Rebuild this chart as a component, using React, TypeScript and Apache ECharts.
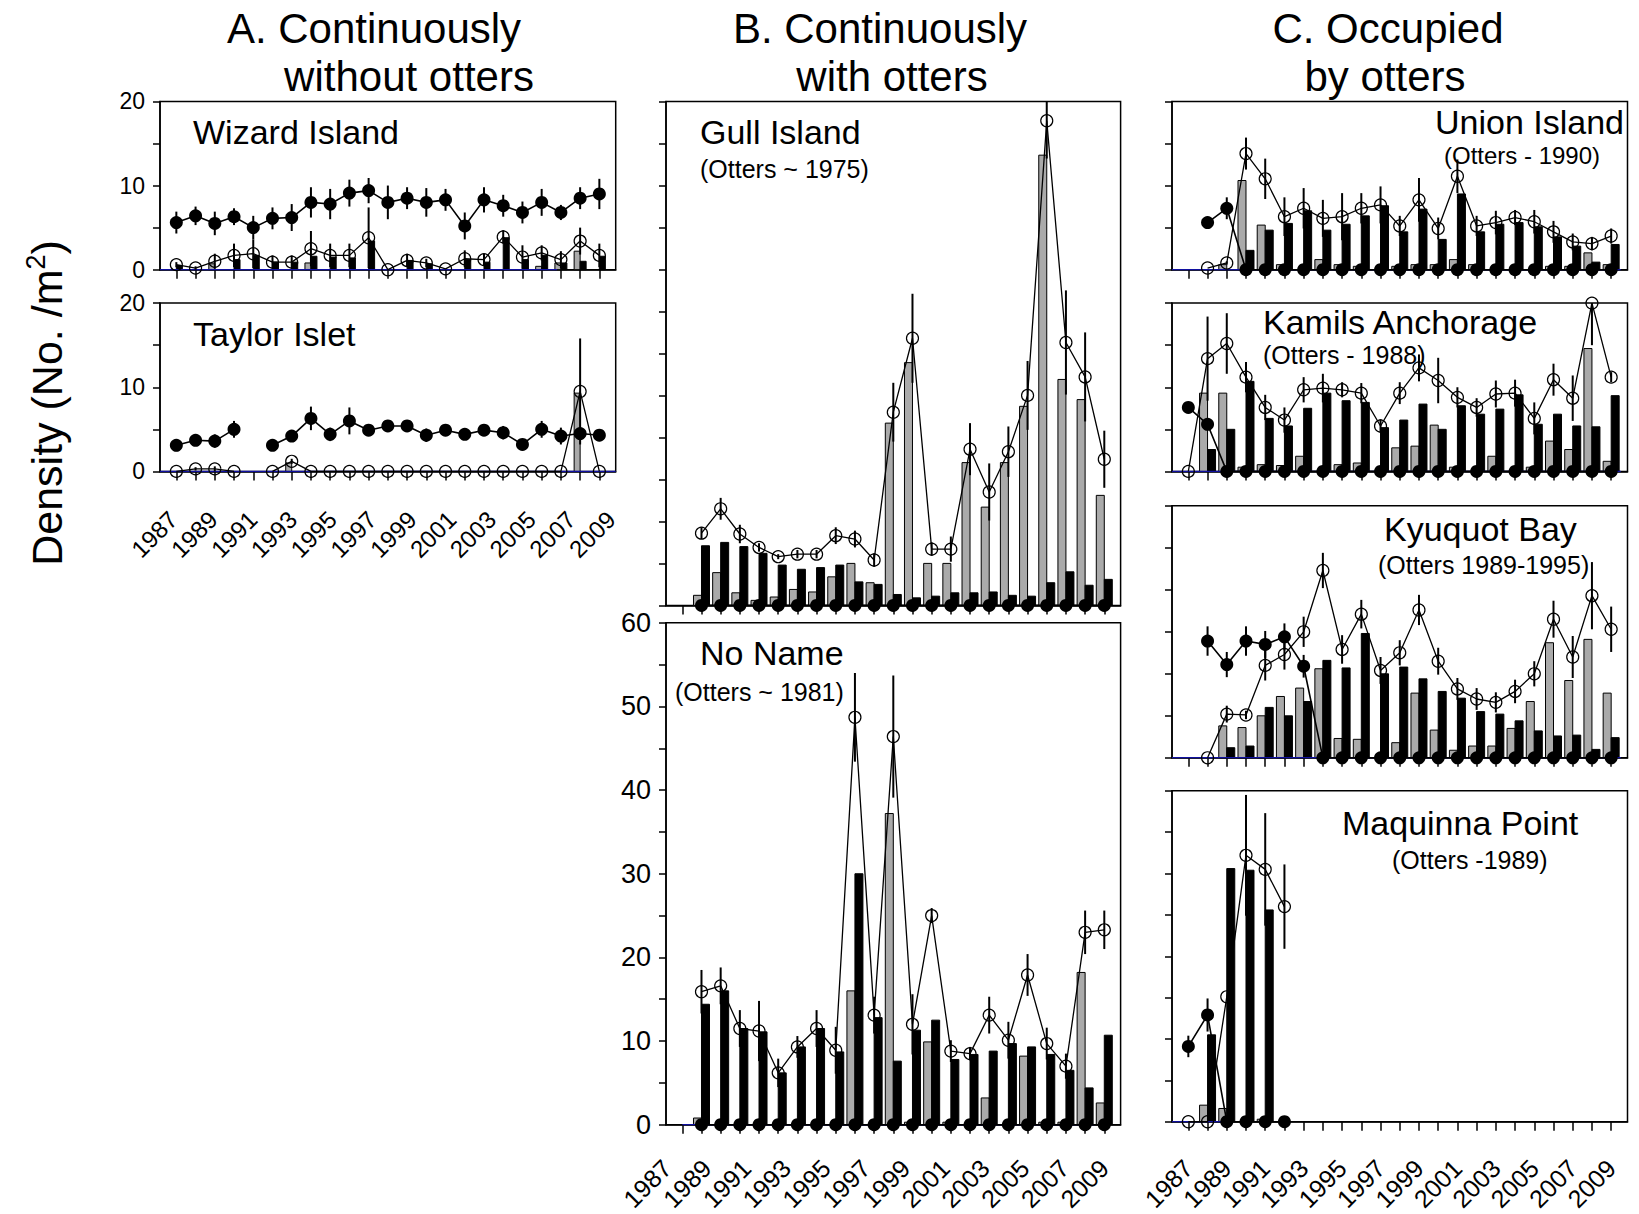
import React, { useEffect, useRef } from "react";
import * as echarts from "echarts";

const years = [1987, 1988, 1989, 1990, 1991, 1992, 1993, 1994, 1995, 1996, 1997, 1998, 1999, 2000, 2001, 2002, 2003, 2004, 2005, 2006, 2007, 2008, 2009];
const labelYears = [1987, 1989, 1991, 1993, 1995, 1997, 1999, 2001, 2003, 2005, 2007, 2009];

// A. Wizard Island
const wizardFilled = [5.6, 6.4, 5.5, 6.3, 5.0, 6.1, 6.2, 8.0, 7.8, 9.1, 9.4, 8.0, 8.5, 8.0, 8.3, 5.2, 8.3, 7.6, 6.8, 8.0, 6.8, 8.5, 9.0];
const wizardFilledErr = [1.3, 1.1, 1.4, 1.0, 1.4, 1.3, 1.6, 1.8, 1.8, 1.6, 1.5, 2.0, 1.3, 1.7, 1.3, 1.6, 1.5, 1.3, 1.3, 1.6, 0.9, 1.3, 1.8];
const wizardOpen = [0.6, 0.2, 1.0, 1.7, 1.9, 0.9, 0.9, 2.5, 1.7, 1.7, 3.8, 0, 1.1, 0.8, 0.1, 1.3, 1.2, 3.9, 1.5, 2.0, 1.2, 3.4, 1.7];
const wizardOpenErr = [0.3, 0.2, 0.9, 1.4, 1.7, 0.8, 0.8, 2.1, 1.4, 1.4, 3.6, 0, 0.8, 0.5, 0, 1.0, 0.7, 0.8, 1.4, 0.9, 1.0, 1.6, 1.4];
const wizardGray = [0, 0, 0.7, 0, 0, 0, 0, 0.8, 0, 0, 0, 0, 0, 0, 0, 0, 0, 0, 0, 0.4, 0.8, 2.2, 0];
const wizardBlack = [0.5, 0, 0, 1.2, 1.7, 0.9, 0.9, 1.6, 1.5, 1.4, 3.4, 0, 1.1, 0.7, 0, 1.2, 0.9, 3.8, 1.2, 1.7, 0.8, 1.0, 1.6];

// A. Taylor Islet
const taylorFilled = [3.1, 3.7, 3.6, 5.0, null, 3.1, 4.2, 6.3, 4.4, 6.0, 4.9, 5.4, 5.4, 4.3, 4.9, 4.4, 4.9, 4.6, 3.2, 5.0, 4.2, 4.5, 4.3];
const taylorFilledErr = [0.7, 0.5, 0.8, 1.0, null, 0.3, 0.4, 1.4, 0.8, 1.6, 0.6, 0.6, 0.7, 0.8, 0.7, 0.6, 0.5, 0.8, 0.2, 1.0, 1.0, 0.5, 0.7];
const taylorOpen = [0, 0.3, 0.3, 0, null, 0, 1.2, 0, 0, 0, 0, 0, 0, 0, 0, 0, 0, 0, 0, 0, 0, 9.5, 0];
const taylorOpenErr = [0, 0.2, 0.3, 0, null, 0, 0.3, 0, 0, 0, 0, 0, 0, 0, 0, 0, 0, 0, 0, 0, 0, 6.3, 0];
const taylorGray = [0, 0, 0, 0, 0, 0, 1.0, 0, 0, 0, 0, 0, 0, 0, 0, 0, 0, 0, 0, 0, 0, 9.3, 0];
const taylorBlack = [0, 0, 0, 0, 0, 0, 0, 0, 0, 0, 0, 0, 0, 0, 0, 0, 0, 0, 0, 0, 0, 0, 0];

// B. Gull Island
const gullFilled = [null, 0, 0, 0, 0, 0, 0, 0, 0, 0, 0, 0, 0, 0, 0, 0, 0, 0, 0, 0, 0, 0, 0];
const gullFilledErr = [null, 0, 0, 0, 0, 0, 0, 0, 0, 0, 0, 0, 0, 0, 0, 0, 0, 0, 0, 0, 0, 0, 0];
const gullOpen = [null, 8.6, 11.5, 8.5, 6.9, 5.8, 6.1, 6.1, 8.3, 7.9, 5.4, 23.0, 31.8, 6.7, 6.7, 18.6, 13.5, 18.3, 25.0, 57.7, 31.3, 27.2, 17.4];
const gullOpenErr = [null, 0.7, 1.3, 1.1, 0.5, 0.3, 0.5, 0.5, 1.0, 1.0, 0.8, 3.5, 5.3, 0.8, 1.5, 3.1, 3.4, 3.0, 4.1, 4.5, 6.2, 5.3, 3.4];
const gullGray = [0, 1.2, 3.9, 1.5, 0.6, 1.0, 1.9, 1.6, 3.4, 5.0, 2.7, 21.7, 28.9, 5.0, 5.0, 17.0, 11.7, 17.0, 23.7, 53.6, 26.9, 24.5, 13.1];
const gullBlack = [0, 7.1, 7.5, 7.0, 6.2, 4.8, 4.3, 4.5, 4.8, 2.8, 2.5, 1.3, 0.9, 1.1, 1.5, 1.5, 1.6, 1.2, 1.1, 2.7, 4.0, 2.4, 3.1];

// B. No Name
const noNameFilled = [null, 0, 0, 0, 0, 0, 0, 0, 0, 0, 0, 0, 0, 0, 0, 0, 0, 0, 0, 0, 0, 0, 0];
const noNameFilledErr = [null, 0, 0, 0, 0, 0, 0, 0, 0, 0, 0, 0, 0, 0, 0, 0, 0, 0, 0, 0, 0, 0, 0];
const noNameOpen = [null, 15.9, 16.6, 11.5, 11.2, 6.2, 9.3, 11.5, 8.9, 48.7, 13.1, 46.4, 12.0, 25.0, 8.8, 8.5, 13.1, 10.1, 17.9, 9.7, 7.0, 23.0, 23.3];
const noNameOpenErr = [null, 2.6, 2.2, 2.2, 3.6, 1.7, 1.3, 2.2, 2.8, 5.3, 2.2, 7.3, 3.6, 0.9, 1.3, 0.8, 2.2, 2.2, 2.5, 1.9, 1.5, 2.6, 2.3];
const noNameGray = [0, 0.8, 0, 0, 0, 0, 0, 0, 0, 16.0, 0, 37.2, 0.3, 9.9, 0.3, 0, 3.2, 0, 8.2, 0.3, 0.3, 18.2, 2.6];
const noNameBlack = [0, 14.4, 16.0, 11.5, 11.1, 6.2, 9.3, 11.5, 8.7, 30.0, 12.8, 7.6, 11.3, 12.5, 7.8, 8.4, 8.8, 9.7, 9.3, 8.4, 6.5, 4.4, 10.7];

// C. Union Island
const unionFilled = [null, 5.6, 7.3, 0, 0, 0, 0, 0, 0, 0, 0, 0, 0, 0, 0, 0, 0, 0, 0, 0, 0, 0, 0];
const unionFilledErr = [null, 0.5, 1.3, 0, 0, 0, 0, 0, 0, 0, 0, 0, 0, 0, 0, 0, 0, 0, 0, 0, 0, 0, 0];
const unionOpen = [null, 0.2, 0.8, 13.8, 10.8, 6.3, 7.3, 6.1, 6.3, 7.3, 7.7, 5.2, 8.3, 4.9, 11.1, 5.2, 5.6, 6.2, 5.7, 4.5, 3.3, 3.1, 4.0];
const unionOpenErr = [null, 0, 0.2, 1.9, 2.4, 2.3, 2.4, 2.2, 2.8, 1.8, 2.2, 1.2, 2.6, 1.3, 2.0, 1.2, 1.4, 0.9, 1.4, 1.3, 1.0, 0.8, 0.9];
const unionGray = [0, 0, 0.6, 10.6, 5.3, 0.6, 0, 1.2, 0.6, 0.4, 0, 0.4, 0.6, 0.6, 1.2, 0.6, 0, 0, 0, 0.4, 0.4, 2.0, 0.6];
const unionBlack = [0, 0, 0, 2.3, 4.7, 5.5, 7.0, 4.7, 5.4, 6.4, 7.6, 4.5, 7.2, 3.6, 9.0, 4.5, 5.4, 5.6, 5.1, 3.9, 2.8, 0.9, 3.0];

// C. Kamils Anchorage
const kamilsFilled = [7.6, 5.6, 0, 0, 0, 0, 0, 0, 0, 0, 0, 0, 0, 0, 0, 0, 0, 0, 0, 0, 0, 0, 0];
const kamilsFilledErr = [0.3, 0.4, 0, 0, 0, 0, 0, 0, 0, 0, 0, 0, 0, 0, 0, 0, 0, 0, 0, 0, 0, 0, 0];
const kamilsOpen = [0, 13.4, 15.2, 11.2, 7.6, 6.1, 9.7, 9.9, 9.7, 9.3, 5.4, 9.3, 12.3, 10.8, 8.8, 7.6, 9.2, 9.3, 6.3, 10.9, 8.7, 20.0, 11.2];
const kamilsOpenErr = [0, 5.0, 3.6, 1.8, 1.5, 1.5, 1.5, 1.7, 0.9, 1.2, 0.8, 1.3, 1.6, 2.7, 1.2, 1.1, 1.6, 1.6, 1.9, 1.9, 2.7, 5.0, 0.6];
const kamilsGray = [0, 9.3, 9.3, 0.5, 0.8, 0.7, 1.8, 0, 0.8, 1.0, 0, 2.8, 3.0, 5.5, 0.5, 0, 1.8, 0, 0.5, 3.6, 2.6, 14.6, 1.2];
const kamilsBlack = [0, 2.6, 5.0, 10.7, 6.3, 5.4, 7.5, 9.3, 8.4, 8.2, 5.2, 6.1, 8.0, 5.0, 7.8, 6.8, 7.4, 9.1, 5.6, 6.8, 5.4, 5.3, 9.0];

// C. Kyuquot Bay
const kyuquotFilled = [null, 13.9, 11.1, 13.9, 13.5, 14.4, 10.9, 0, 0, 0, 0, 0, 0, 0, 0, 0, 0, 0, 0, 0, 0, 0, 0];
const kyuquotFilledErr = [null, 1.75, 1.5, 1.75, 1.6, 1.6, 1.35, 0, 0, 0, 0, 0, 0, 0, 0, 0, 0, 0, 0, 0, 0, 0, 0];
const kyuquotOpen = [null, 0, 5.2, 5.1, 11.0, 12.3, 15.0, 22.3, 12.9, 17.1, 10.4, 12.5, 17.6, 11.5, 8.2, 7.0, 6.6, 7.9, 10.0, 16.5, 12.0, 19.3, 15.3];
const kyuquotOpenErr = [null, 0, 1.0, 0.5, 1.8, 1.8, 1.8, 2.1, 1.7, 1.7, 1.6, 1.5, 1.8, 1.6, 1.3, 1.3, 1.2, 1.4, 1.5, 2.2, 2.5, 4.0, 2.7];
const kyuquotGray = [0, 0, 3.8, 3.6, 5.0, 7.3, 8.3, 10.6, 2.3, 2.2, 0, 1.8, 7.7, 3.3, 0.9, 1.4, 1.4, 3.5, 6.7, 13.7, 9.2, 14.1, 7.7];
const kyuquotBlack = [0, 0, 1.2, 1.4, 6.0, 5.0, 6.7, 11.6, 10.7, 14.8, 10.0, 10.8, 9.4, 7.9, 7.1, 5.5, 5.2, 4.4, 3.2, 2.6, 2.7, 1.0, 2.4];

// C. Maquinna Point
const maquinnaFilled = [9.1, 12.9, 0, 0, 0, 0, null, null, null, null, null, null, null, null, null, null, null, null, null, null, null, null, null];
const maquinnaFilledErr = [1.3, 2.0, 0, 0, 0, 0, null, null, null, null, null, null, null, null, null, null, null, null, null, null, null, null, null];
const maquinnaOpen = [0, 0, 15.1, 32.2, 30.5, 26.0, null, null, null, null, null, null, null, null, null, null, null, null, null, null, null, null, null];
const maquinnaOpenErr = [0, 0, 0, 7.3, 6.8, 5.1, null, null, null, null, null, null, null, null, null, null, null, null, null, null, null, null, null];
const maquinnaGray = [0, 2.0, 1.6, 0, 0.3, 0, 0, 0, 0, 0, 0, 0, 0, 0, 0, 0, 0, 0, 0, 0, 0, 0, 0];
const maquinnaBlack = [0, 10.5, 30.6, 30.4, 25.6, 0, 0, 0, 0, 0, 0, 0, 0, 0, 0, 0, 0, 0, 0, 0, 0, 0, 0];

const FONT = '"Liberation Sans", Arial, Helvetica, sans-serif';
const XMIN = 1986.15;
const XMAX = 2009.85;

type Num = number | null;
interface Panel {
  left: number; top: number; width: number; height: number; ymax: number;
  yLabels: boolean; xLabels: boolean; yLabelSize: number; xLabelSize: number; xLabelMargin: number;
  // year-label placement drift (in years): offset at 1987 and stretch per year
  labelOffset: number; labelStretch: number;
  barW: number;
  blue: [number, number] | null;
  filled: Num[]; filledErr: Num[]; open: Num[]; openErr: Num[]; gray: number[]; black: number[];
}

const panels: Panel[] = [
  { left: 160, top: 101.4, width: 455.7, height: 168.3, ymax: 20, yLabels: true, xLabels: false, yLabelSize: 23, xLabelSize: 24, xLabelMargin: 44, labelOffset: -0.16, labelStretch: 0.035, barW: 6, blue: [XMIN, 2006.8],
    filled: wizardFilled, filledErr: wizardFilledErr, open: wizardOpen, openErr: wizardOpenErr, gray: wizardGray, black: wizardBlack },
  { left: 160, top: 303.1, width: 455.7, height: 168.3, ymax: 20, yLabels: true, xLabels: true, yLabelSize: 23, xLabelSize: 24, xLabelMargin: 44, labelOffset: -0.16, labelStretch: 0.035, barW: 6, blue: [XMIN, XMAX],
    filled: taylorFilled, filledErr: taylorFilledErr, open: taylorOpen, openErr: taylorOpenErr, gray: taylorGray, black: taylorBlack },
  { left: 666, top: 101.4, width: 454.6, height: 504, ymax: 60, yLabels: false, xLabels: false, yLabelSize: 27, xLabelSize: 25, xLabelMargin: 39, labelOffset: -0.8, labelStretch: 0.036, barW: 8, blue: null,
    filled: gullFilled, filledErr: gullFilledErr, open: gullOpen, openErr: gullOpenErr, gray: gullGray, black: gullBlack },
  { left: 666, top: 622.8, width: 454.6, height: 504, ymax: 60, yLabels: true, xLabels: true, yLabelSize: 27, xLabelSize: 25, xLabelMargin: 39, labelOffset: -0.8, labelStretch: 0.036, barW: 8, blue: [1987, 2008.5],
    filled: noNameFilled, filledErr: noNameFilledErr, open: noNameOpen, openErr: noNameOpenErr, gray: noNameGray, black: noNameBlack },
  { left: 1172, top: 101.4, width: 455.5, height: 168.3, ymax: 20, yLabels: false, xLabels: false, yLabelSize: 23, xLabelSize: 25, xLabelMargin: 42, labelOffset: 0, labelStretch: 0, barW: 8, blue: [XMIN, 2009.5],
    filled: unionFilled, filledErr: unionFilledErr, open: unionOpen, openErr: unionOpenErr, gray: unionGray, black: unionBlack },
  { left: 1172, top: 303.1, width: 455.5, height: 168.3, ymax: 20, yLabels: false, xLabels: false, yLabelSize: 23, xLabelSize: 25, xLabelMargin: 42, labelOffset: 0, labelStretch: 0, barW: 8, blue: [XMIN, 2009.5],
    filled: kamilsFilled, filledErr: kamilsFilledErr, open: kamilsOpen, openErr: kamilsOpenErr, gray: kamilsGray, black: kamilsBlack },
  { left: 1172, top: 505.8, width: 455.5, height: 252, ymax: 30, yLabels: false, xLabels: false, yLabelSize: 23, xLabelSize: 25, xLabelMargin: 42, labelOffset: 0, labelStretch: 0, barW: 8, blue: [XMIN, 2009.5],
    filled: kyuquotFilled, filledErr: kyuquotFilledErr, open: kyuquotOpen, openErr: kyuquotOpenErr, gray: kyuquotGray, black: kyuquotBlack },
  { left: 1172, top: 790.8, width: 455.5, height: 336, ymax: 40, yLabels: false, xLabels: true, yLabelSize: 23, xLabelSize: 25, xLabelMargin: 42, labelOffset: 0, labelStretch: 0, barW: 8, blue: [XMIN, 1989],
    filled: maquinnaFilled, filledErr: maquinnaFilledErr, open: maquinnaOpen, openErr: maquinnaOpenErr, gray: maquinnaGray, black: maquinnaBlack },
];

const titles = [
  { text: "A. Continuously", x: 374, y: 28 },
  { text: "without otters", x: 409, y: 76 },
  { text: "B. Continuously", x: 880, y: 28 },
  { text: "with otters", x: 892, y: 76 },
  { text: "C. Occupied", x: 1388, y: 28 },
  { text: "by otters", x: 1385, y: 76 },
];

const panelLabels = [
  { text: "Wizard Island", x: 193, y: 132, size: 34 },
  { text: "Taylor Islet", x: 193, y: 334, size: 34 },
  { text: "Gull Island", x: 700, y: 132, size: 34 },
  { text: "(Otters ~ 1975)", x: 700, y: 169, size: 25 },
  { text: "No Name", x: 700, y: 653, size: 34 },
  { text: "(Otters ~ 1981)", x: 675, y: 692, size: 25 },
  { text: "Union Island", x: 1435, y: 122, size: 34 },
  { text: "(Otters - 1990)", x: 1444, y: 155, size: 24 },
  { text: "Kamils Anchorage", x: 1263, y: 322, size: 34 },
  { text: "(Otters - 1988)", x: 1263, y: 355, size: 25 },
  { text: "Kyuquot Bay", x: 1384, y: 529, size: 34 },
  { text: "(Otters 1989-1995)", x: 1378, y: 565, size: 25 },
  { text: "Maquinna Point", x: 1342, y: 823, size: 34 },
  { text: "(Otters -1989)", x: 1392, y: 860, size: 25 },
];

function pairs(arr: Num[]) {
  return years.map((y, i) => [y, arr[i] == null ? "-" : arr[i]]);
}

function barSeries(i: number, arr: number[], side: number, p: Panel, fill: string) {
  const data = years.map((y, k) => [y, arr[k]]).filter((d) => d[1] > 0);
  return {
    type: "custom",
    xAxisIndex: i,
    yAxisIndex: i,
    z: 2,
    silent: true,
    encode: { x: 0, y: 1 },
    data,
    renderItem: (_params: any, api: any) => {
      const x = api.value(0);
      const v = Math.min(api.value(1), p.ymax);
      const top = api.coord([x, v]);
      const base = api.coord([x, 0]);
      const left = side < 0 ? top[0] - p.barW : top[0];
      return {
        type: "rect",
        shape: { x: left, y: top[1], width: p.barW, height: base[1] - top[1] },
        style: { fill, stroke: "#000", lineWidth: 1 },
      };
    },
  };
}

function errSeries(i: number, vals: Num[], errs: Num[], p: Panel) {
  const data: number[][] = [];
  years.forEach((y, k) => {
    const v = vals[k];
    const e = errs[k];
    if (v != null && e != null && e > 0) data.push([y, v - e, v + e]);
  });
  return {
    type: "custom",
    xAxisIndex: i,
    yAxisIndex: i,
    z: 4,
    silent: true,
    encode: { x: 0, y: [1, 2] },
    data,
    renderItem: (_params: any, api: any) => {
      const x = api.value(0);
      const lo = Math.max(0, api.value(1));
      const hi = Math.min(p.ymax, api.value(2));
      const a = api.coord([x, lo]);
      const b = api.coord([x, hi]);
      return {
        type: "line",
        shape: { x1: a[0], y1: a[1], x2: b[0], y2: b[1] },
        style: { stroke: "#000", lineWidth: 2 },
      };
    },
  };
}

function buildOption() {
  const axisLine = { color: "#000", width: 1.5 };
  const grid = panels.map((p) => ({
    left: p.left, top: p.top, width: p.width, height: p.height,
    show: true, borderColor: "#000", borderWidth: 1.5, backgroundColor: "transparent",
  }));
  const xAxis = panels.map((p, i) => {
    const k = p.labelStretch;
    const off = p.labelOffset;
    const labelPos = labelYears.map((y) => Math.max(XMIN + 0.02, y + off + (y - 1987) * k));
    return {
      type: "value",
      gridIndex: i,
      min: XMIN,
      max: XMAX,
      axisLine: { show: true, onZero: false, lineStyle: axisLine },
      axisTick: { show: true, customValues: years, length: 9, inside: false, lineStyle: axisLine },
      axisLabel: {
        show: p.xLabels,
        customValues: labelPos,
        rotate: 45,
        fontSize: p.xLabelSize,
        fontFamily: FONT,
        color: "#000",
        margin: p.xLabelMargin,
        showMinLabel: true,
        showMaxLabel: true,
        formatter: (v: number) => String(Math.round((v - off + 1987 * k) / (1 + k))),
      },
      splitLine: { show: false },
    };
  });
  const yAxis = panels.map((p, i) => ({
    type: "value",
    gridIndex: i,
    min: 0,
    max: p.ymax,
    interval: 5,
    axisLine: { show: true, lineStyle: axisLine },
    axisTick: { show: true, length: 7, inside: false, lineStyle: axisLine },
    axisLabel: {
      show: p.yLabels,
      fontSize: p.yLabelSize,
      fontFamily: FONT,
      color: "#000",
      margin: 15,
      formatter: (v: number) => (v % 10 === 0 ? String(v) : ""),
    },
    splitLine: { show: false },
  }));

  const series: any[] = [];
  panels.forEach((p, i) => {
    if (p.blue) {
      series.push({
        type: "line", xAxisIndex: i, yAxisIndex: i, z: 3, silent: true, symbol: "none",
        data: [[p.blue[0], 0], [p.blue[1], 0]],
        lineStyle: { color: "#1010a0", width: 1.5 },
      });
    }
    series.push(barSeries(i, p.gray, -1, p, "#aaaaaa"));
    series.push(barSeries(i, p.black, 1, p, "#000"));
    series.push(errSeries(i, p.filled, p.filledErr, p));
    series.push(errSeries(i, p.open, p.openErr, p));
    series.push({
      type: "line", xAxisIndex: i, yAxisIndex: i, z: 5, silent: true, clip: false,
      data: pairs(p.filled), connectNulls: false,
      symbol: "circle", symbolSize: 13, showSymbol: true,
      lineStyle: { color: "#000", width: 1.6 },
      itemStyle: { color: "#000", borderColor: "#000", borderWidth: 0 },
    });
    series.push({
      type: "line", xAxisIndex: i, yAxisIndex: i, z: 6, silent: true, clip: false,
      data: pairs(p.open), connectNulls: false,
      symbol: "circle", symbolSize: 12, showSymbol: true,
      lineStyle: { color: "#000", width: 1.3 },
      itemStyle: { color: "rgba(255,255,255,0)", borderColor: "#000", borderWidth: 1.2 },
    });
  });

  const graphic: any[] = [];
  titles.forEach((t) => {
    graphic.push({
      type: "text", x: t.x, y: t.y, silent: true,
      style: { text: t.text, fontSize: 42, fontFamily: FONT, fill: "#000", align: "center", verticalAlign: "middle" },
    });
  });
  panelLabels.forEach((t) => {
    graphic.push({
      type: "text", x: t.x, y: t.y, silent: true, z: 10,
      style: { text: t.text, fontSize: t.size, fontFamily: FONT, fill: "#000", align: "left", verticalAlign: "middle" },
    });
  });
  graphic.push({
    type: "text", x: 47, y: 403, rotation: Math.PI / 2, silent: true,
    style: {
      text: "{a|Density (No. /m}{b|2}{a|)}",
      fontFamily: FONT,
      fill: "#000",
      align: "center",
      verticalAlign: "middle",
      rich: {
        a: { fontSize: 43, fontFamily: FONT, fill: "#000", lineHeight: 50 },
        b: { fontSize: 27, fontFamily: FONT, fill: "#000", verticalAlign: "top" },
      },
    },
  });

  return {
    animation: false,
    backgroundColor: "#fff",
    grid,
    xAxis,
    yAxis,
    series,
    graphic,
  };
}

export default function App() {
  const ref = useRef<HTMLDivElement>(null);
  useEffect(() => {
    if (!ref.current) return;
    const chart = echarts.init(ref.current, null, { renderer: "svg" });
    chart.setOption(buildOption() as any);
    return () => chart.dispose();
  }, []);
  return (
    <div
      ref={ref}
      style={{ position: "absolute", left: 0, top: 0, width: 1639, height: 1214, background: "#fff" }}
    />
  );
}
